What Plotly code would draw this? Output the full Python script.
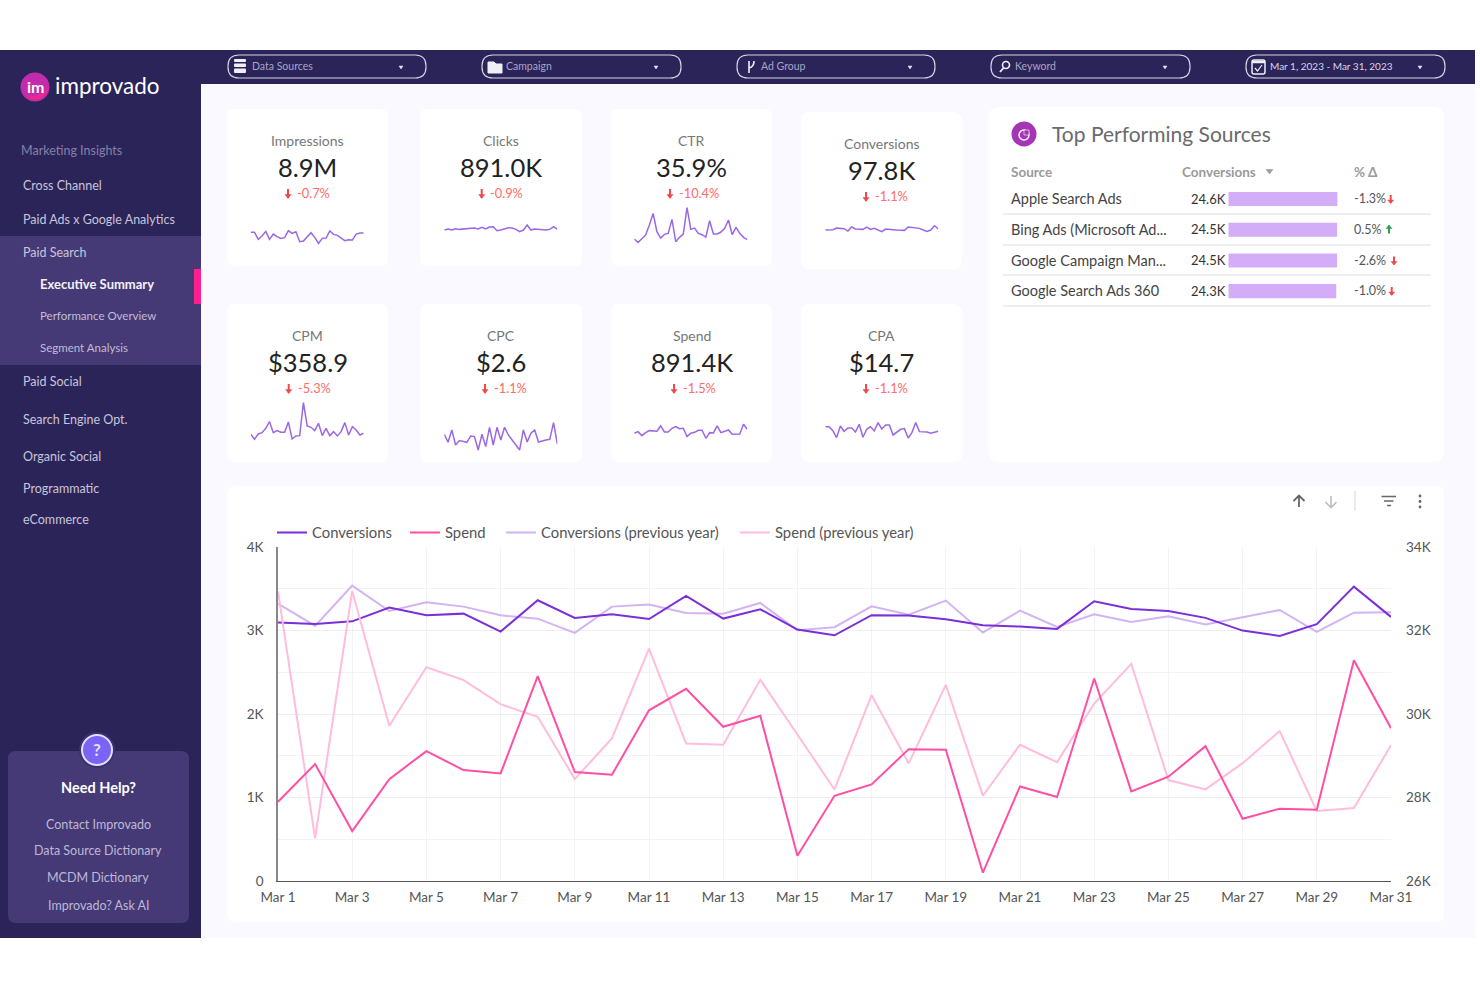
import plotly.graph_objects as go

FONT = "Lato"

# main chart data
days = ["Mar %d" % d for d in range(1, 32)]
tick_days = days[::2]
conversions = [3095, 3079, 3110, 3274, 3182, 3202, 2987, 3362, 3150, 3194, 3137, 3414, 3143, 3254, 3011, 2943,
               3183, 3179, 3135, 3063, 3047, 3019, 3350, 3258, 3234, 3151, 2999, 2935, 3075, 3525, 3163]
conversions_prev = [3322, 3055, 3537, 3234, 3338, 3286, 3182, 3142, 2971, 3286, 3310, 3210, 3202, 3330, 3003, 3039,
                    3290, 3190, 3358, 2975, 3238, 3043, 3195, 3103, 3171, 3071, 3159, 3246, 2983, 3214, 3218]
spend = [27898, 28800, 27196, 28441, 29111, 28656, 28576, 30905, 28608, 28544, 30088, 30602, 29693, 29956, 26606,
         28042, 28313, 29158, 29143, 26199, 28265, 28010, 30849, 28146, 28497, 29230, 27492, 27731, 27707, 31288, 29661]
spend_prev = [32939, 27021, 32947, 29717, 31121, 30810, 30235, 29932, 28441, 29414, 31567, 29294, 29262, 30818, 29509,
              28193, 30451, 28816, 30698, 28042, 29262, 28847, 30251, 31200, 28417, 28193, 28823, 29589, 27675, 27747, 29254]
left_ticks = [0, 1000, 2000, 3000, 4000]
left_labels = ["0", "1K", "2K", "3K", "4K"]
right_ticks = [26000, 28000, 30000, 32000, 34000]
right_labels = ["26K", "28K", "30K", "32K", "34K"]

# scorecards (sparkline values are relative)
card_titles = ["Impressions", "Clicks", "CTR", "Conversions", "CPM", "CPC", "Spend", "CPA"]
card_values = ["8.9M", "891.0K", "35.9%", "97.8K", "$358.9", "$2.6", "891.4K", "$14.7"]
card_deltas = ["-0.7%", "-0.9%", "-10.4%", "-1.1%", "-5.3%", "-1.1%", "-1.5%", "-1.1%"]
spark_impressions = [43, 43, 22, 32, 46, 22, 38, 30, 25, 27, 48, 40, 45, 15, 17, 30, 42, 28, 10, 25, 26, 47, 37, 34, 27, 18, 21, 20, 38, 41, 41]
spark_clicks = [50, 53, 50, 54, 52, 53, 54, 55, 56, 53, 58, 53, 59, 60, 48, 50, 54, 57, 56, 52, 45, 50, 65, 50, 53, 52, 49, 50, 52, 60, 53]
spark_ctr = [23, 13, 24, 35, 65, 100, 45, 26, 37, 40, 82, 15, 28, 38, 117, 52, 56, 40, 36, 29, 78, 38, 38, 44, 55, 80, 36, 58, 40, 28, 21]
spark_conversions = [59, 59, 60, 65, 63, 63, 56, 68, 62, 62, 61, 68, 61, 64, 58, 54, 62, 62, 60, 59, 58, 58, 68, 66, 65, 64, 59, 55, 59, 72, 62]
spark_cpm = [57, 42, 58, 62, 75, 95, 62, 68, 63, 63, 94, 43, 52, 53, 152, 82, 78, 68, 90, 53, 75, 53, 65, 52, 65, 92, 55, 80, 70, 55, 60]
spark_cpc = [57, 33, 70, 25, 38, 36, 33, 52, 50, 10, 57, 20, 78, 25, 78, 40, 78, 55, 40, 28, 10, 70, 34, 60, 70, 34, 38, 40, 42, 92, 28]
spark_spend = [60, 65, 53, 62, 68, 66, 66, 82, 64, 64, 75, 80, 74, 75, 50, 60, 63, 69, 69, 45, 62, 61, 82, 62, 66, 70, 57, 57, 58, 87, 72]
spark_cpa = [80, 80, 68, 47, 82, 66, 76, 76, 64, 87, 48, 72, 80, 67, 92, 73, 85, 85, 55, 65, 72, 74, 46, 62, 92, 65, 64, 64, 60, 64, 66]

# sources table
sources = ["Apple Search Ads", "Bing Ads (Microsoft Ad...", "Google Campaign Man...", "Google Search Ads 360"]
source_conv = [24.6, 24.5, 24.5, 24.3]
source_pct = ["-1.3%", "0.5%", "-2.6%", "-1.0%"]

nav_items = ["Cross Channel", "Paid Ads x Google Analytics", "Paid Search", "Paid Social", "Search Engine Opt.",
             "Organic Social", "Programmatic", "eCommerce"]
nav_y = [186, 220, 253, 382, 420, 457, 489, 520]
sub_items = ["Executive Summary", "Performance Overview", "Segment Analysis"]
help_items = ["Contact Improvado", "Data Source Dictionary", "MCDM Dictionary", "Improvado? Ask AI"]
filters = ["Data Sources", "Campaign", "Ad Group", "Keyword", "Mar 1, 2023 - Mar 31, 2023"]

W, H = 1480, 987
SIDEBAR = "#2b2459"
BAND = "#463a76"
shapes = []
notes = []


def rect(x0, y0, x1, y1, fill, r=0, line=None, lw=1):
    if r:
        p = ("M %g %g L %g %g Q %g %g %g %g L %g %g Q %g %g %g %g L %g %g Q %g %g %g %g L %g %g Q %g %g %g %g Z"
             % (x0 + r, y0, x1 - r, y0, x1, y0, x1, y0 + r, x1, y1 - r, x1, y1, x1 - r, y1,
                x0 + r, y1, x0, y1, x0, y1 - r, x0, y0 + r, x0, y0, x0 + r, y0))
        shapes.append(dict(type="path", path=p, fillcolor=fill, line=dict(color=line or "rgba(0,0,0,0)", width=lw), layer="below"))
    else:
        shapes.append(dict(type="rect", x0=x0, y0=y0, x1=x1, y1=y1, fillcolor=fill, line=dict(width=0), layer="below"))


def circle(cx, cy, r, fill, line=None, lw=1):
    shapes.append(dict(type="circle", x0=cx - r, x1=cx + r, y0=cy - r, y1=cy + r, fillcolor=fill,
                       line=dict(color=line or "rgba(0,0,0,0)", width=lw), layer="below"))


def path(p, color, lw=1.2, fill="rgba(0,0,0,0)"):
    shapes.append(dict(type="path", path=p, line=dict(color=color, width=lw), fillcolor=fill, layer="below"))


def txt(x, y, s, size, color, anchor="left", weight=400):
    notes.append(dict(x=x, y=y - 0.2, xref="x", yref="y", text=s, showarrow=False, xanchor=anchor, yanchor="middle",
                      font=dict(family=FONT, size=size, color=color, weight=weight), borderpad=0, borderwidth=0))


def arrow(x, y, color, down=True, h=4.5):
    d = 1 if down else -1
    path("M %g %g L %g %g" % (x, y - d * h, x, y + d * h), color, 2)
    path("M %g %g L %g %g L %g %g Z" % (x - 3, y + d * 1, x + 3, y + d * 1, x, y + d * (h + .5)), color, .5, color)


# page chrome
rect(0, 50, 1475, 84, SIDEBAR)
rect(0, 50, 201, 938, SIDEBAR)
rect(201, 84, 1475, 938, "#f9f9ff")
rect(0, 236, 201, 365, BAND)
rect(194, 269, 201, 304, "#ff1f8f")

# logo
circle(35, 87, 14.5, "#c22bab")
path("M 26 96 Q 35 103 44 96 Q 48 92 49 87 Q 40 98 26 96 Z", "#e8298f", .5, "#e8298f")
txt(35, 87, "im", 16, "#ffffff", "center", 700)
txt(55, 85.5, "improvado", 22.5, "#ffffff")

txt(21, 151, "Marketing Insights", 12.5, "#8580a8")
for s, y in zip(nav_items, nav_y):
    txt(23, y, s, 12.5, "#c8c5da")
txt(40, 284, sub_items[0], 13, "#f2f1f7", weight=700)
txt(40, 316, sub_items[1], 11.5, "#c0bcd6")
txt(40, 348, sub_items[2], 11.5, "#c0bcd6")

# help box
rect(8, 751, 189, 923, BAND, 8)
circle(97, 750, 18, "#3a3170")
circle(97, 750, 15, "#7a63f5", "#e4dfff", 2)
txt(97, 750, "?", 17, "#e4dfff", "center", 700)
txt(98, 788, "Need Help?", 14.5, "#ffffff", "center", 700)
for s, y in zip(help_items, [825, 851, 878, 906]):
    txt(98, y, s, 12.5, "#bdb8d6", "center")

# filter pills
for i, (s, x0, x1) in enumerate(zip(filters, [228, 482, 737, 991, 1246], [426, 681, 935, 1190, 1445])):
    rect(x0, 55, x1, 78, "rgba(0,0,0,0)", 11, "#d6d3e4", 1.2)
    color = "#d8d5e6" if i == 4 else "#a9a5c5"
    txt(x0 + 24, 66.5, s, 10 if i == 4 else 10.5, color)
    cx = x1 - 25
    path("M %g 66 L %g 66 L %g 69 Z" % (cx - 2, cx + 2, cx), "#e6e4ef", .5, "#e6e4ef")
# filter icons
rect(234, 59, 246, 62, "#f0eff6", 1)
rect(234, 63.5, 246, 67, "#f0eff6", 1)
rect(234, 68.5, 246, 73, "#f0eff6", 1)
path("M 488 62 L 494 62 L 496 64 L 502 64 L 502 73 L 488 73 Z", "#f0eff6", 1, "#f0eff6")
path("M 749 61 L 749 73 M 749 68 Q 754 67 754 61", "#f0eff6", 1.6)
circle(1006, 65, 3.5, "rgba(0,0,0,0)", "#f0eff6", 1.6)
path("M 1003.5 68 L 1000 72", "#f0eff6", 1.8)
rect(1252, 60, 1265, 74, "rgba(0,0,0,0)", 2, "#f0eff6", 1.5)
path("M 1252 62 L 1265 62", "#f0eff6", 2.5)
path("M 1255 68 L 1257.5 71 L 1262 65", "#f0eff6", 1.2)

# cards
card_x = [(227, 388), (420, 582), (611, 772), (801, 962)]
card_y = [(109, 266), (109, 266), (109, 266), (112, 269), (304, 462), (304, 462), (304, 462), (304, 462)]
arrow_x = [288, 481.7, 670, 866, 288.7, 485, 674, 866]
delta_x = [297, 490, 679, 875, 298, 494, 683, 875]
for i in range(8):
    x0, x1 = card_x[i % 4]
    y0, y1 = card_y[i]
    rect(x0, y0, x1, y1, "#ffffff", 8)
    cx = (x0 + x1) / 2
    txt(cx, y0 + 32, card_titles[i], 14, "#777777", "center")
    txt(cx, y0 + 58, card_values[i], 25.5, "#222222", "center")
    arrow(arrow_x[i], y0 + 84.5, "#f04848")
    txt(delta_x[i], y0 + 84, card_deltas[i], 12.8, "#ff6b66")

# sources panel
rect(989, 107, 1444, 462, "#ffffff", 10)
circle(1024, 134, 12.5, "#a535b5")
circle(1024, 135, 5, "rgba(0,0,0,0)", "#ffffff", 1.4)
path("M 1024 130 L 1029 130 L 1029 135 L 1024 135 Z", "#ffffff", .6, "#a535b5")
txt(1052, 133.5, "Top Performing Sources", 21, "#6a6a6a")
txt(1011, 172, "Source", 13.5, "#9a9a9a", weight=700)
txt(1182, 172, "Conversions", 13.5, "#9a9a9a", weight=700)
path("M 1266 169.5 L 1273 169.5 L 1269.5 174 Z", "#9a9a9a", .5, "#9a9a9a")
txt(1354, 172, "% Δ", 13.5, "#9a9a9a", weight=700)
row_y = [199, 229.5, 260.5, 291]
pct_arrow_x = [1390.7, 1389, 1394, 1391.7]
for i in range(4):
    txt(1011, row_y[i], sources[i], 14.5, "#444444")
    txt(1226, row_y[i], "%.1fK" % source_conv[i], 13, "#333333", "right")
    txt(1354, row_y[i], source_pct[i], 12.5, "#555555")
    if source_pct[i].startswith("-"):
        arrow(pct_arrow_x[i], row_y[i], "#f04848", True, 4)
    else:
        arrow(pct_arrow_x[i], row_y[i], "#2e9e4f", False, 4)
for y in [214, 245, 275, 306]:
    path("M 1003 %g L 1431 %g" % (y, y), "#dddddd", 1)

# chart panel
rect(227, 486, 1444, 922, "#ffffff", 8)
path("M 1299 507 L 1299 496 M 1293.5 501 L 1299 495.5 L 1304.5 501", "#666666", 1.8)
path("M 1331 496 L 1331 507 M 1325.5 502 L 1331 507.5 L 1336.5 502", "#bdbdbd", 1.6)
path("M 1355 491 L 1355 511", "#dddddd", 1.2)
path("M 1381.5 496.5 L 1396 496.5 M 1384 501 L 1393.5 501 M 1387 505.5 L 1391 505.5", "#666666", 1.5)
for y in [496, 501.5, 507]:
    circle(1420, y, 1.4, "#666666")


fig = go.Figure()
# invisible page axes so everything else can sit in picture pixels
fig.add_trace(go.Scatter(x=[0], y=[0], mode="markers", marker=dict(opacity=0), showlegend=False, hoverinfo="skip"))

axes = {
    "xaxis": dict(domain=[0, 1], range=[0, W], visible=False, fixedrange=True),
    "yaxis": dict(domain=[0, 1], range=[H, 0], visible=False, fixedrange=True),
}


def set_axes(n, px0, px1, py0, py1, xr, yr, **yextra):
    axes["xaxis%d" % n] = dict(domain=[px0 / W, px1 / W], range=xr, visible=False, fixedrange=True, anchor="y%d" % n)
    axes["yaxis%d" % n] = dict(domain=[1 - py1 / H, 1 - py0 / H], range=yr, visible=False, fixedrange=True,
                               anchor="x%d" % n, **yextra)


# sparklines
sparks = [spark_impressions, spark_clicks, spark_ctr, spark_conversions, spark_cpm, spark_cpc, spark_spend, spark_cpa]
spark_left = [250.7, 444.3, 634.3, 825.3]
spark_base = [246.7, 246.7, 246.7, 249.7, 453.3, 453.3, 453.3, 453.3]
for i, vals in enumerate(sparks):
    n = i + 4
    x0 = spark_left[i % 4]
    set_axes(n, x0, x0 + 113, spark_base[i] - 55, spark_base[i], [0, 30], [0, 165])
    fig.add_trace(go.Scatter(x=list(range(31)), y=vals, mode="lines", line=dict(color="#9a68e6", width=1.5),
                             xaxis="x%d" % n, yaxis="y%d" % n, showlegend=False, hoverinfo="skip"))

# sources bars
set_axes(12, 1228.3, 1337.6, 183.7, 306.5, [0, 24.6], [3.5, -0.5])
fig.add_trace(go.Bar(y=list(range(4)), x=source_conv, orientation="h", marker=dict(color="#d3adf7", line=dict(width=0)),
                     width=0.46, xaxis="x12", yaxis="y12", showlegend=False, hoverinfo="skip"))

# main chart
tick_font = dict(family=FONT, size=13.5, color="#555555")
axes["xaxis2"] = dict(domain=[278 / W, 1391 / W], anchor="y2", type="category", categoryorder="array", categoryarray=days,
                      range=[0, 30], tickmode="array", tickvals=tick_days, ticktext=tick_days, tickfont=tick_font,
                      showgrid=True, gridcolor="#f3f3f3", gridwidth=1, showline=True, linecolor="#555555", linewidth=1,
                      ticks="", ticklabelstandoff=4, fixedrange=True, zeroline=False)
axes["yaxis2"] = dict(domain=[1 - 881 / H, 1 - 547 / H], anchor="x2", range=[0, 4000], tickmode="array", tickvals=left_ticks,
                      ticktext=left_labels, tickfont=tick_font, showgrid=True, gridcolor="#eeeeee", gridwidth=1,
                      minor=dict(tickmode="array", tickvals=[500, 1500, 2500, 3500], showgrid=True, gridcolor="#f3f3f3", ticks=""),
                      showline=True, linecolor="#888888", linewidth=1.5, ticks="", ticklabelstandoff=10, fixedrange=True, zeroline=False)
axes["yaxis3"] = dict(domain=[1 - 881 / H, 1 - 547 / H], anchor="x2", overlaying="y2", side="right", range=[26000, 34000],
                      tickmode="array", tickvals=right_ticks, ticktext=right_labels, tickfont=tick_font, showgrid=False,
                      showline=False, ticks="", ticklabelstandoff=14, fixedrange=True, zeroline=False)
main = [("Conversions", conversions, "#7b2fd6", "y2", "legend"), ("Spend", spend, "#ff4fa3", "y3", "legend2"),
        ("Conversions (previous year)", conversions_prev, "#d2b3f3", "y2", "legend3"),
        ("Spend (previous year)", spend_prev, "#ffbcdc", "y3", "legend4")]
for name, vals, color, ax, leg in [main[2], main[3], main[0], main[1]]:
    fig.add_trace(go.Scatter(x=days, y=vals, name=name, mode="lines", line=dict(color=color, width=2), xaxis="x2", yaxis=ax,
                             hoverinfo="skip", legend=leg))

# one legend per entry, the gaps in the original are wider than plotly's own
legends = {}
for key, lx in zip(["legend", "legend2", "legend3", "legend4"], [272, 405, 501, 735]):
    legends[key] = dict(orientation="h", x=lx / W, y=1 - 533 / H, xanchor="left", yanchor="middle", bgcolor="rgba(0,0,0,0)",
                        font=dict(family=FONT, size=14.8, color="#555555"))

fig.update_layout(
    width=W, height=H, autosize=False, margin=dict(l=0, r=0, t=0, b=0, autoexpand=False), paper_bgcolor="#ffffff",
    plot_bgcolor="rgba(0,0,0,0)", shapes=shapes, annotations=notes, font=dict(family=FONT),
    **legends, **axes,
)

fig.write_html("out.html", config=dict(displayModeBar=False),
               post_script="document.body.style.margin='0';document.body.style.overflow='hidden';")
